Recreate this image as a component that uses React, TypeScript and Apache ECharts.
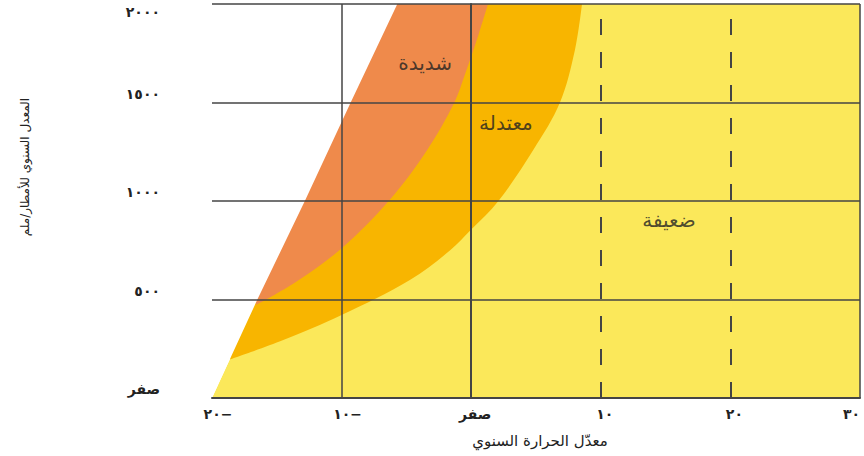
import React, { useEffect, useRef } from 'react';
import * as echarts from 'echarts';

const xTickLabels = ['٢٠−', '١٠−', 'صفر', '١٠', '٢٠', '٣٠'];
const yTickLabels = ['صفر', '٥٠٠', '١٠٠٠', '١٥٠٠', '٢٠٠٠'];
const xTitle = 'معدّل الحرارة السنوي';
const yTitle = 'المعدل السنوي للأمطار/ملم';

// [temperature, rainfall] boundary points
const leftEdge = [[-20, 0], [-16.5, 500], [-12.8, 1005], [-9.3, 1500], [-5.7, 2000]];
const moderateEdge = [[-18.6, 196], [-14.5, 294], [-10, 421], [-4.7, 600], [-1.6, 751], [0, 855], [2.1, 1000], [4.8, 1260], [6.85, 1500], [8.0, 1765], [8.55, 2000]];
const severeEdge = [[-16.6, 472], [-13.5, 590], [-10, 760], [-6.3, 1005], [-3.4, 1259], [-1.3, 1500], [-0.5, 1639], [0.6, 1852], [1.3, 2000]];
const weakArea = [...leftEdge, [30, 2000]];

const zoneNames = ['شديدة', 'معتدلة', 'ضعيفة'];
const zoneX = [-3.56, 2.68, 15.26];
const zoneY = [1700, 1396, 903];

const solidLinesX = [-10, 0, 30];
const dashedLinesX = [10, 20];

const FONT = '"DejaVu Sans", sans-serif';
const YELLOW = '#FBE85A';
const AMBER = '#F8B500';
const ORANGE = '#EF8A4B';
const GRID = '#444444';

export default function App() {
  const ref = useRef<HTMLDivElement>(null);
  useEffect(() => {
    if (!ref.current) return;
    const chart = echarts.init(ref.current, undefined, { renderer: 'svg' });
    const areaSeries = (name: string, data: number[][], color: string, origin: string, smooth: number) => ({
      name,
      type: 'line',
      data,
      symbol: 'none',
      smooth,
      silent: true,
      lineStyle: { width: 0 },
      areaStyle: { color, opacity: 1, origin },
      z: 2,
    });
    chart.setOption({
      animation: false,
      textStyle: { fontFamily: FONT },
      grid: { left: 212, right: 4, top: 4, bottom: 58, containLabel: false, outerBoundsMode: 'none' },
      graphic: [
        {
          type: 'text',
          x: 25,
          y: 167,
          rotation: Math.PI / 2,
          style: {
            text: yTitle,
            fontSize: 12,
            fontFamily: FONT,
            fill: '#222',
            align: 'center',
            verticalAlign: 'middle',
          },
        },
      ],
      xAxis: {
        type: 'value',
        min: -20,
        max: 30,
        interval: 10,
        z: 5,
        axisLine: { show: true, lineStyle: { color: GRID, width: 2 } },
        axisTick: { show: false },
        splitLine: { show: false },
        axisLabel: {
          margin: 9,
          fontSize: 14,
          fontWeight: 'bold',
          color: '#222',
          fontFamily: FONT,
          hideOverlap: false,
          alignMaxLabel: 'right',
          formatter: (v: number) => {
            const i = Math.round((v + 20) / 10);
            if (v < 0) return '{neg|' + xTickLabels[i] + '}';
            if (v >= 30) return '{last|' + xTickLabels[i] + '}';
            return '{pos|' + xTickLabels[i] + '}';
          },
          rich: {
            neg: { fontSize: 14, fontWeight: 'bold', color: '#222', fontFamily: FONT, padding: [0, 0, 0, 12] },
            pos: { fontSize: 14, fontWeight: 'bold', color: '#222', fontFamily: FONT, padding: [0, 0, 0, 8] },
            last: { fontSize: 14, fontWeight: 'bold', color: '#222', fontFamily: FONT },
          },
        },
        name: xTitle,
        nameLocation: 'middle',
        nameGap: 35,
        nameTextStyle: { fontSize: 15, color: '#222', fontFamily: FONT, padding: [0, 0, 0, 8] },
      },
      yAxis: {
        type: 'value',
        min: 0,
        max: 2000,
        interval: 500,
        z: 5,
        axisLine: { show: true, lineStyle: { color: GRID, width: 2 } },
        axisTick: { show: false },
        splitLine: { show: true, lineStyle: { color: GRID, width: 1.5 } },
        axisLabel: {
          margin: 52,
          color: '#222',
          fontFamily: FONT,
          formatter: (v: number) => {
            const i = Math.round(v / 500);
            return i === 4 ? '{down|' + yTickLabels[i] + '}' : '{up|' + yTickLabels[i] + '}';
          },
          rich: {
            up: { fontSize: 14, fontWeight: 'bold', color: '#222', fontFamily: FONT, padding: [0, 0, 18, 0] },
            down: { fontSize: 14, fontWeight: 'bold', color: '#222', fontFamily: FONT, padding: [16, 0, 0, 0] },
          },
        },
      },
      series: [
        areaSeries('weak', weakArea, YELLOW, 'start', 0),
        areaSeries('moderate', moderateEdge, AMBER, 'end', 0.35),
        areaSeries('severe', severeEdge, ORANGE, 'end', 0.35),
        areaSeries('none', leftEdge, '#ffffff', 'end', 0),
        {
          name: 'labels',
          type: 'scatter',
          silent: true,
          symbolSize: 1,
          itemStyle: { color: 'rgba(0,0,0,0)' },
          z: 3,
          data: zoneNames.map((n, i) => ({ name: n, value: [zoneX[i], zoneY[i]] })),
          label: {
            show: true,
            position: 'inside',
            formatter: '{b}',
            fontSize: 20,
            color: '#222',
            fontFamily: FONT,
          },
          markLine: {
            silent: true,
            symbol: ['none', 'none'],
            label: { show: false },
            data: [
              ...solidLinesX.map((v) => ({ xAxis: v, lineStyle: { type: 'solid', color: GRID, width: 1.5 } })),
              ...dashedLinesX.map((v) => ({ xAxis: v, lineStyle: { type: [16, 17], color: GRID, width: 2 } })),
            ],
          },
        },
      ],
    });
    return () => chart.dispose();
  }, []);
  return (
    <div
      ref={ref}
      style={{ position: 'fixed', left: 0, top: 0, width: 864, height: 456, background: '#fff' }}
    />
  );
}
